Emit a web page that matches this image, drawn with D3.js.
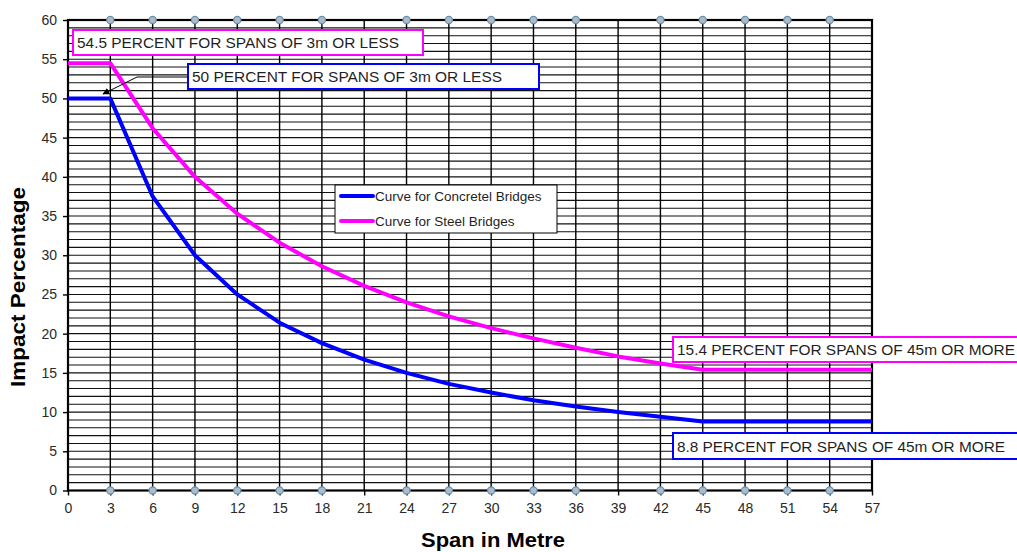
<!DOCTYPE html>
<html><head><meta charset="utf-8">
<script src="https://cdn.jsdelivr.net/npm/d3@7"></script>
<style>
html,body{margin:0;padding:0;background:#fff;}
svg{display:block;font-family:"Liberation Sans",Arial,sans-serif;}
</style></head>
<body>
<svg id="chart" width="1017" height="552"></svg>
<script>
const spans = [0,3,6,9,12,15,18,21,24,27,30,33,36,39,42,45,57];
const concrete = [50,50,37.5,30,25,21.4,18.8,16.7,15,13.6,12.5,11.5,10.7,10,9.4,8.8,8.8];
const steel = [54.5,54.5,46.2,40,35.3,31.6,28.6,26.1,24,22.2,20.7,19.4,18.2,17.1,16.2,15.4,15.4];
const xTicks = [0,3,6,9,12,15,18,21,24,27,30,33,36,39,42,45,48,51,54,57];
const yTicks = [0,5,10,15,20,25,30,35,40,45,50,55,60];
const markerSpans = [3,6,9,12,15,18,24,27,30,33,36,42,45,48,51,54];
const seriesNames = ["Curve for Concretel Bridges","Curve for Steel Bridges"];
const seriesColors = ["#0000ff","#ff00ff"];

const svg = d3.select("#chart");
const L=68, R=872, T=20, B=490.5;
const x = d3.scaleLinear().domain([0,57]).range([L,R]);
const y = d3.scaleLinear().domain([0,60]).range([B,T]);

// horizontal gridlines every 1 unit
svg.append("g").selectAll("line").data(d3.range(1,60)).join("line")
  .attr("x1",L).attr("x2",R).attr("y1",d=>y(d)).attr("y2",d=>y(d))
  .attr("stroke","#111").attr("stroke-width",1.1);
// vertical gridlines
svg.append("g").selectAll("line").data(xTicks.slice(1,-1)).join("line")
  .attr("x1",d=>x(d)).attr("x2",d=>x(d)).attr("y1",T).attr("y2",B)
  .attr("stroke","#000").attr("stroke-width",1.4);

// axes
const yAxis = d3.axisLeft(y).tickValues(yTicks).tickSize(5).tickPadding(6);
const gy = svg.append("g").attr("transform",`translate(${L},0)`).call(yAxis);
const xAxis = d3.axisBottom(x).tickValues(xTicks).tickSize(5).tickPadding(8);
const gx = svg.append("g").attr("transform",`translate(0,${B})`).call(xAxis);
[gy,gx].forEach(g=>{
  g.select(".domain").remove();
  g.selectAll(".tick line").attr("stroke","#000").attr("stroke-width",1.4);
  g.selectAll(".tick text").attr("font-size",14).attr("fill","#2a2a2a")
    .attr("font-family","'Liberation Sans',Arial,sans-serif");
});

// border
svg.append("rect").attr("x",L).attr("y",T).attr("width",R-L).attr("height",B-T)
  .attr("fill","none").attr("stroke","#000").attr("stroke-width",2.2);

// markers top/bottom
[T,B].forEach(yy=>{
  svg.append("g").selectAll("circle").data(markerSpans).join("circle")
    .attr("cx",d=>x(d)).attr("cy",yy).attr("r",3.6)
    .attr("fill","#a9bccb").attr("stroke","#6f8ea6").attr("stroke-width",1.2);
});

// curves
const line = d3.line().x(d=>x(d[0])).y(d=>y(d[1]));
[concrete,steel].forEach((vals,i)=>{
  svg.append("path").datum(spans.map((s,j)=>[s,vals[j]]))
    .attr("d",line).attr("fill","none").attr("stroke",seriesColors[i])
    .attr("stroke-width",4).attr("stroke-linejoin","round");
});

// annotation boxes
function box(x0,y0,w,h,color,txt,tl){
  svg.append("rect").attr("x",x0).attr("y",y0).attr("width",w).attr("height",h)
    .attr("fill","#fff").attr("stroke",color).attr("stroke-width",2);
  const t = svg.append("text").attr("x",x0+4).attr("y",y0+h/2+5.5)
    .attr("font-size",15).attr("fill","#1f1f1f").text(txt);
  if(tl) t.attr("textLength",tl).attr("lengthAdjust","spacingAndGlyphs");
}
box(73,30,350,25,"#ff00ff","54.5 PERCENT FOR SPANS OF 3m OR LESS",322);
box(188,64,351,25,"#0000ff","50 PERCENT FOR SPANS OF 3m OR LESS",310);
box(673,337,360,25,"#ff00ff","15.4 PERCENT FOR SPANS OF 45m OR MORE",338);
box(673,433,360,26,"#0000ff","8.8 PERCENT FOR SPANS OF 45m OR MORE",328);

// arrow
svg.append("defs").append("marker").attr("id","ah").attr("viewBox","0 0 10 10")
  .attr("refX",9).attr("refY",5).attr("markerWidth",7).attr("markerHeight",7)
  .attr("orient","auto").attr("markerUnits","userSpaceOnUse")
  .append("path").attr("d","M0,0L10,5L0,10Z").attr("fill","#000");
svg.append("path").attr("d","M188,77L137,77L103,94").attr("fill","none")
  .attr("stroke","#000").attr("stroke-width",1).attr("marker-end","url(#ah)");

// legend
svg.append("rect").attr("x",335).attr("y",185).attr("width",222).attr("height",48)
  .attr("fill","#fff").attr("stroke","#000").attr("stroke-width",1);
seriesNames.forEach((n,i)=>{
  const yy = 196+i*25;
  svg.append("line").attr("x1",341).attr("x2",373).attr("y1",yy).attr("y2",yy)
    .attr("stroke",seriesColors[i]).attr("stroke-width",4).attr("stroke-linecap","round");
  svg.append("text").attr("x",375).attr("y",yy+5).attr("font-size",13.5)
    .attr("fill","#1f1f1f").text(n);
});

// axis titles
svg.append("text").attr("x",493).attr("y",547).attr("text-anchor","middle")
  .attr("font-size",20).attr("font-weight","bold").attr("fill","#000")
  .attr("textLength",144).attr("lengthAdjust","spacingAndGlyphs").text("Span in Metre");
svg.append("text").attr("transform","translate(25,287) rotate(-90)").attr("text-anchor","middle")
  .attr("font-size",20).attr("font-weight","bold").attr("fill","#000")
  .attr("textLength",200).attr("lengthAdjust","spacingAndGlyphs").text("Impact  Percentage");
</script>
</body></html>
